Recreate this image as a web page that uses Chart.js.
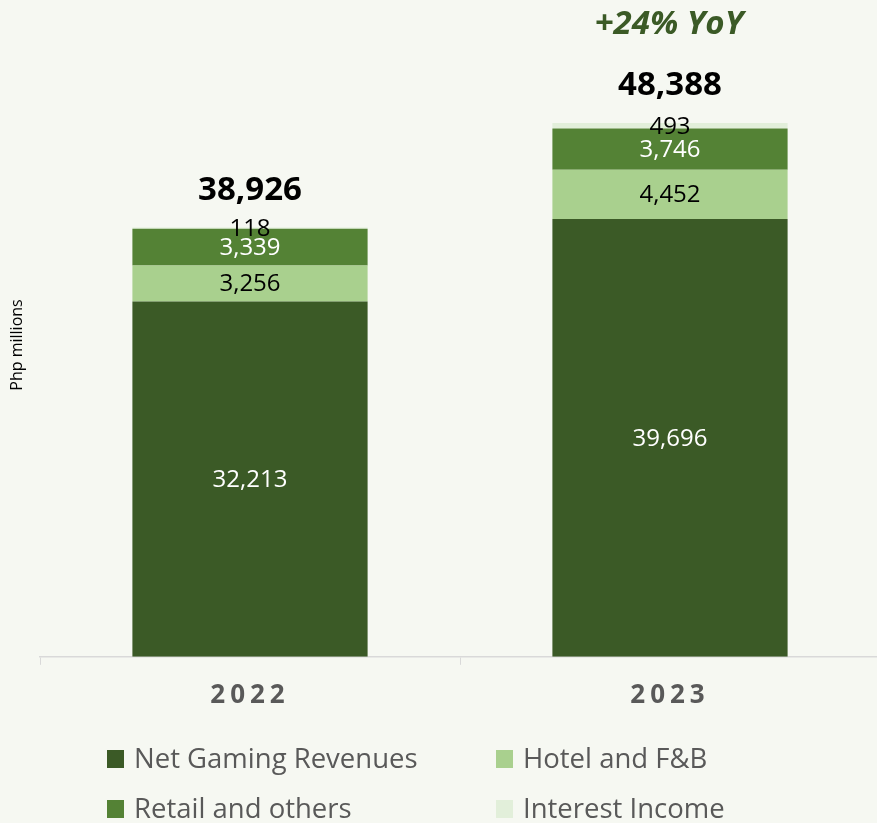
<!DOCTYPE html>
<html>
<head>
<meta charset="utf-8">
<script src="https://cdn.jsdelivr.net/npm/chart.js@4"></script>
<style>
  html, body { margin: 0; padding: 0; background: #f6f8f2; overflow: hidden; }
  #wrap { position: relative; width: 877px; height: 823px; }
  #revChart { position: absolute; left: 0; top: 0; }
  .legend { position: absolute; font-family: 'Open Sans', sans-serif; font-size: 27.5px; color: #595959; white-space: nowrap; }
  .legend span.box { position: absolute; left: 0; top: 10px; width: 17px; height: 18px; }
  .legend span.txt { position: absolute; left: 27px; top: 0; line-height: 36px; }
</style>
</head>
<body>
<div id="wrap">
  <canvas id="revChart" width="880" height="741"></canvas>
  <div id="legend"></div>
</div>
<script>
const years = ['2022', '2023'];
const netGaming = [32213, 39696];
const hotelFnb = [3256, 4452];
const retailOthers = [3339, 3746];
const interestIncome = [118, 493];
const totals = [38926, 48388];
const growthNote = '+24% YoY';
const yTitle = 'Php millions';

const seriesNames = ['Net Gaming Revenues', 'Hotel and F&B', 'Retail and others', 'Interest Income'];
const seriesColors = ['#3b5a26', '#a9d08e', '#548235', '#e2efda'];
const labelColors = ['#ffffff', '#000000', '#ffffff', '#000000'];

const ctx = document.getElementById('revChart').getContext('2d');

// value labels, totals, the YoY note and the y title
const labelPlugin = {
  id: 'labels',
  afterDatasetsDraw(chart) {
    const c = chart.ctx;
    c.save();
    c.letterSpacing = '0px';
    c.textAlign = 'center';
    c.textBaseline = 'middle';
    chart.data.datasets.forEach((ds, i) => {
      const meta = chart.getDatasetMeta(i);
      meta.data.forEach((bar, j) => {
        c.font = '24px "Open Sans"';
        c.fillStyle = labelColors[i];
        c.fillText(ds.data[j].toLocaleString('en-US'), bar.x, (bar.y + bar.base) / 2 + 1);
      });
    });
    const topMeta = chart.getDatasetMeta(chart.data.datasets.length - 1);
    topMeta.data.forEach((bar, j) => {
      c.font = 'bold 33px "Open Sans"';
      c.fillStyle = '#000000';
      c.fillText(totals[j].toLocaleString('en-US'), bar.x, bar.y - 37);
      if (j === topMeta.data.length - 1) {
        c.font = 'italic bold 33px "Open Sans"';
        c.fillStyle = '#3b5a26';
        c.fillText(growthNote, bar.x - 1, bar.y - 98);
      }
    });
    c.translate(17, 345);
    c.rotate(-Math.PI / 2);
    c.font = '16px "Open Sans"';
    c.fillStyle = '#000000';
    c.fillText(yTitle, 0, 0);
    c.restore();
  }
};

// letter spacing for the year labels
const spacingPlugin = {
  id: 'spacing',
  beforeDraw(chart) { chart.ctx.letterSpacing = '5px'; },
  beforeDatasetsDraw(chart) { chart.ctx.letterSpacing = '0px'; }
};

new Chart(ctx, {
  type: 'bar',
  data: {
    labels: years,
    datasets: [netGaming, hotelFnb, retailOthers, interestIncome].map((vals, i) => ({
      label: seriesNames[i],
      data: vals,
      backgroundColor: seriesColors[i],
      borderWidth: 0,
      categoryPercentage: 1,
      barPercentage: 0.56
    }))
  },
  options: {
    responsive: false,
    animation: false,
    layout: { padding: { left: 40, top: 17, bottom: 15, right: 0 } },
    plugins: {
      legend: { display: false },
      tooltip: { enabled: false }
    },
    scales: {
      x: {
        stacked: true,
        grid: { display: true, drawOnChartArea: false, color: '#d9d9d9', tickLength: 8 },
        border: { color: '#d9d9d9', width: 1.5 },
        ticks: { color: '#595959', padding: 15, font: { family: 'Open Sans', size: 26, weight: 'bold' } }
      },
      y: {
        stacked: true,
        display: false,
        min: 0,
        max: 58000
      }
    }
  },
  plugins: [labelPlugin, spacingPlugin]
});

// legend, two columns
const legendPos = [[107, 740], [496, 740], [107, 790], [496, 790]];
const legendEl = document.getElementById('legend');
seriesNames.forEach((name, i) => {
  const item = document.createElement('div');
  item.className = 'legend';
  item.style.left = legendPos[i][0] + 'px';
  item.style.top = legendPos[i][1] + 'px';
  item.innerHTML = '<span class="box" style="background:' + seriesColors[i] + '"></span><span class="txt"></span>';
  item.querySelector('.txt').textContent = name;
  legendEl.appendChild(item);
});
</script>
</body>
</html>
